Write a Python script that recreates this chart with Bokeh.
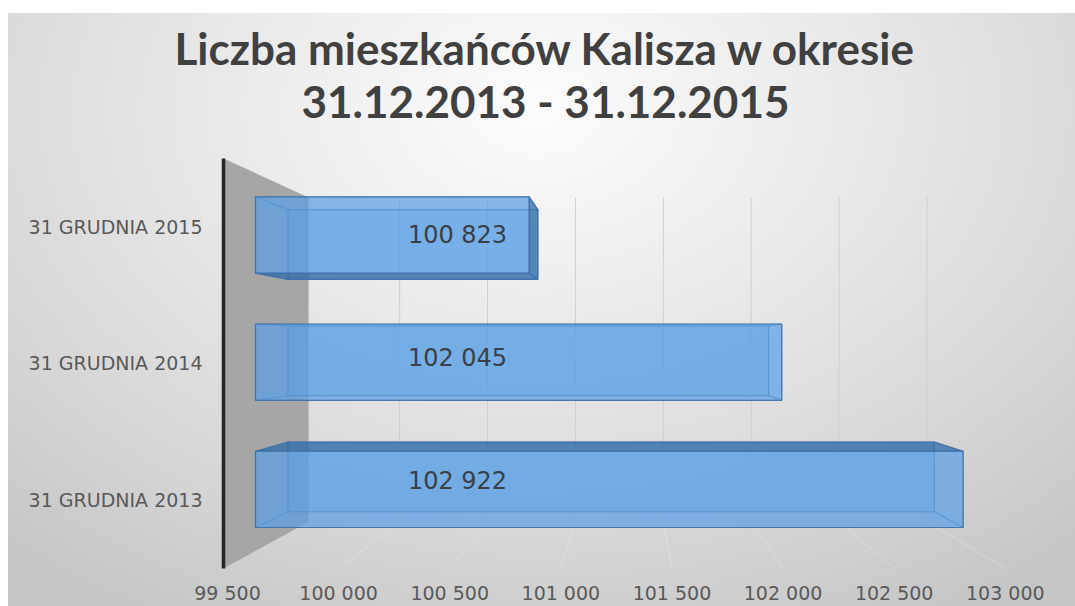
import numpy as np
from bokeh.plotting import figure
from bokeh.models import ColumnDataSource, FixedTicker, Title, Range1d
from bokeh.core.properties import value
from bokeh.embed import file_html
from bokeh.resources import INLINE

# ---------------- data ----------------
categories = ["31 GRUDNIA 2013", "31 GRUDNIA 2014", "31 GRUDNIA 2015"]
populations = [102922, 102045, 100823]
value_labels = ["102 922", "102 045", "100 823"]
x_ticks = [99500, 100000, 100500, 101000, 101500, 102000, 102500, 103000]
x_tick_labels = ["99 500", "100 000", "100 500", "101 000",
                 "101 500", "102 000", "102 500", "103 000"]
title_line_1 = "Liczba mieszkańców Kalisza w okresie"
title_line_2 = "31.12.2013 - 31.12.2015"

AXIS_MIN = x_ticks[0]

# ---------------- 3D "camera" (style constants) ----------------
VP_X, VP_Y = 101314.0, 1.135      # vanishing point in data units
S_WALL_BACK = 0.791               # scale of the back plane of the walls
S_BAR_FRONT = 0.9305              # scale of bar front faces
S_BAR_BACK = 0.85                 # scale of bar back faces
BAR_HALF = 0.3                    # half bar thickness in category units
WALL_OFFSET = 18                  # wall thickness in value units
LABEL_S = 0.9
LABEL_X = 100535

cat_pos = list(range(len(categories)))
CAT_LO, CAT_HI = -0.5, len(categories) - 0.5


def proj(v, c, s):
    v = np.asarray(v, float)
    c = np.asarray(c, float)
    return VP_X + (v - VP_X) * s, VP_Y + (c - VP_Y) * s


p = figure(width=1075, height=606,
           x_range=Range1d(99446, 103316), y_range=Range1d(-0.522, 2.631),
           output_backend="svg", toolbar_location=None, title=None,
           min_border_left=215, min_border_right=0, min_border_top=140,
           min_border_bottom=34,
           border_fill_color=None, background_fill_color=None,
           outline_line_color=None,
           styles={"background":
                   "linear-gradient(#ffffff,#ffffff) 0 0/100% 13px no-repeat, "
                   "linear-gradient(#ffffff,#ffffff) 0 0/8px 100% no-repeat, "
                   "radial-gradient(ellipse 75% 95% at 50% 18%, #fcfcfc 0%, "
                   "#e9e9e9 40%, #d6d6d6 75%, #c6c6c6 100%)"})
p.grid.visible = False

# ---------------- titles ----------------
p.add_layout(Title(text=title_line_2, align="left", text_font="Lato",
                   text_font_size="44px", text_color="#404040",
                   text_font_style="bold", standoff=28, offset=86), "above")
p.add_layout(Title(text=title_line_1, align="left", text_font="Lato",
                   text_font_size="44px", text_color="#404040",
                   text_font_style="bold", standoff=-30, offset=-41), "above")

# ---------------- axes ----------------
p.xaxis.ticker = FixedTicker(ticks=x_ticks)
p.xaxis.major_label_overrides = dict(zip(x_ticks, x_tick_labels))
p.yaxis.ticker = FixedTicker(ticks=cat_pos)
p.yaxis.major_label_overrides = dict(zip(cat_pos, categories))
for ax in (p.xaxis, p.yaxis):
    ax.axis_line_color = None
    ax.major_tick_line_color = None
    ax.minor_tick_line_color = None
    ax.major_label_text_font = "DejaVu Sans"
    ax.major_label_text_font_size = "19px"
    ax.major_label_text_color = "#595959"
p.xaxis.major_label_standoff = 4
p.yaxis.major_label_standoff = 7

# ---------------- walls / gridlines ----------------
wall_v = AXIS_MIN - WALL_OFFSET
fx, fy = proj([wall_v, wall_v], [CAT_LO, CAT_HI], 1.0)
bx, by = proj([wall_v, wall_v], [CAT_HI, CAT_LO], S_WALL_BACK)
p.patch(list(fx) + list(bx), list(fy) + list(by),
        fill_color="#a6a6a6", line_color=None)

grid_v = x_ticks[1:]
gx0, gy0 = proj(grid_v, [CAT_LO] * len(grid_v), S_WALL_BACK)
gx1, gy1 = proj(grid_v, [CAT_HI] * len(grid_v), S_WALL_BACK)
p.segment(gx0, gy0, gx1, gy1, line_color="#cfcfcf", line_width=1)
hx0, hy0 = proj(grid_v, [CAT_LO] * len(grid_v), 1.0)
p.segment(gx0, gy0, hx0, hy0, line_color="#f2f2f2", line_width=1,
          line_alpha=0.35)

p.segment(fx[0:1], fy[0:1], fx[1:2], fy[1:2], line_color="#262626",
          line_width=3.5)

# ---------------- 3D bars ----------------
xs, ys, fills, falphas, lalphas = [], [], [], [], []


def add_face(px, py, fill, fa, la):
    xs.append(list(px))
    ys.append(list(py))
    fills.append(fill)
    falphas.append(fa)
    lalphas.append(la)


for c, val in zip(cat_pos, populations):
    x0, x1 = AXIS_MIN, val
    y0, y1 = c - BAR_HALF, c + BAR_HALF
    cv = np.array([x0, x1, x1, x0])
    cc = np.array([y0, y0, y1, y1])
    FX, FY = proj(cv, cc, S_BAR_FRONT)
    BX, BY = proj(cv, cc, S_BAR_BACK)
    add_face(BX, BY, "#5b9bd5", 0.30, 0.6)
    sides = [((0, 1), VP_Y < y0), ((1, 2), VP_X > x1),
             ((2, 3), VP_Y > y1), ((3, 0), VP_X < x0)]
    vis = []
    for (a, b), visible in sides:
        sx = [FX[a], FX[b], BX[b], BX[a]]
        sy = [FY[a], FY[b], BY[b], BY[a]]
        if visible:
            vis.append((sx, sy))
        else:
            add_face(sx, sy, "#5b9bd5", 0.0, 0.45)
    for sx, sy in vis:
        add_face(sx, sy, "#2f6aa6", 0.75, 0.9)
    add_face(FX, FY, "#5a9fe6", 0.72, 0.9)

src = ColumnDataSource(dict(xs=xs, ys=ys, fill=fills, fa=falphas, la=lalphas))
p.patches("xs", "ys", source=src, fill_color="fill", fill_alpha="fa",
          line_color="#3e70a8", line_alpha="la", line_width=1.2)

# ---------------- value labels ----------------
lx, ly = proj([LABEL_X] * len(cat_pos), cat_pos, LABEL_S)
lsrc = ColumnDataSource(dict(x=[LABEL_X] * len(cat_pos), y=ly, t=value_labels))
p.text("x", "y", text="t", source=lsrc, text_font=value("DejaVu Sans"),
       text_font_size=value("24px"), text_color="#3a3f48",
       text_align="center", text_baseline="middle", y_offset=-4)

open("out.html", "w").write(file_html(p, INLINE))
